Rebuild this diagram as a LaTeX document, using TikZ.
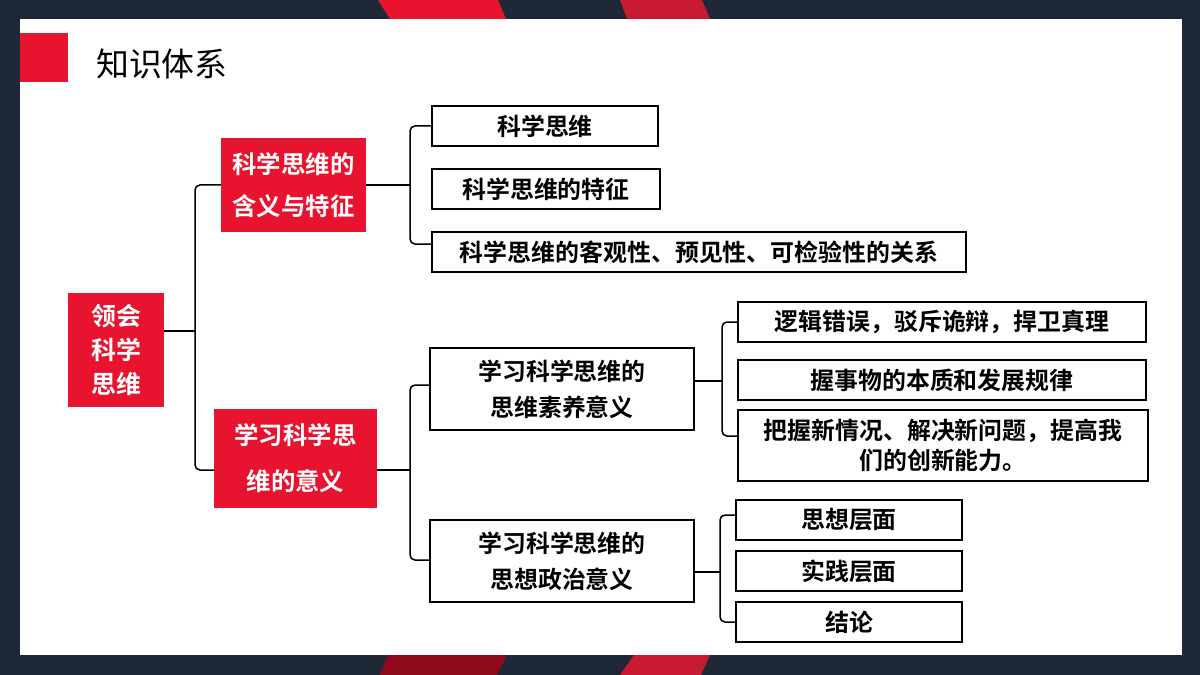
\documentclass[tikz,border=0pt]{standalone}
\usepackage{fontspec}
\newfontfamily\cjk{Noto Sans CJK SC}
\newfontfamily\cjkb{Noto Sans CJK SC Bold}
\definecolor{dark}{HTML}{1F2836}
\definecolor{rd}{HTML}{E8132E}
\definecolor{rdd}{HTML}{8E0A1B}
\definecolor{rdm}{HTML}{C91A33}
\begin{document}
\begin{tikzpicture}[x=1bp,y=-1bp,
  redbox/.style={fill=rd,text=white,font=\cjkb\fontsize{24.5}{32}\selectfont,align=center,inner sep=0pt},
  wbox/.style={draw=black,line width=2bp,fill=white,font=\cjkb\fontsize{24}{30}\selectfont,align=center,inner sep=0pt},
  brk/.style={line width=1.5bp,rounded corners=5bp}]
\fill[dark] (0,0) rectangle (1200,675);
\fill[rd] (378,0) -- (498,0) -- (506,19) -- (390,19) -- cycle;
\fill[rdm] (620,0) -- (702,0) -- (710,19) -- (627,19) -- cycle;
\fill[rdd] (388,655) -- (507,655) -- (497,675) -- (380,675) -- cycle;
\fill[rdm] (634,655) -- (710,655) -- (701,675) -- (620,675) -- cycle;
\fill[white] (20,19) rectangle (1182,655);
\fill[rd] (20,33) rectangle (68,82);
\node[anchor=west,font=\cjk\fontsize{33}{33}\selectfont,inner sep=0pt] (title) at (96,64) {知识体系};
% nodes
\node[redbox,minimum width=96bp,minimum height=114bp,font=\cjkb\fontsize{25}{34}\selectfont] (root) at (116,350) {领会\\科学\\思维};
\node[redbox,minimum width=145bp,minimum height=94bp,font=\cjkb\fontsize{24.5}{42}\selectfont] (a) at (293.5,185) {科学思维的\\含义与特征};
\node[redbox,minimum width=163bp,minimum height=99bp,font=\cjkb\fontsize{24.5}{46}\selectfont] (b) at (295.5,458.5) {学习科学思\\维的意义};
\node[wbox,minimum width=226bp,minimum height=40bp] (a1) at (545,126) {科学思维};
\node[wbox,minimum width=228bp,minimum height=40bp] (a2) at (546,189) {科学思维的特征};
\node[wbox,minimum width=534bp,minimum height=40bp] (a3) at (699,252) {科学思维的客观性、预见性、可检验性的关系};
\node[wbox,minimum width=264bp,minimum height=82bp,font=\cjkb\fontsize{24}{36}\selectfont] (b1) at (562,389) {学习科学思维的\\思维素养意义};
\node[wbox,minimum width=264bp,minimum height=82bp,font=\cjkb\fontsize{24}{36}\selectfont] (b2) at (562,561) {学习科学思维的\\思想政治意义};
\node[wbox,minimum width=408bp,minimum height=40bp] (c1) at (942,322) {逻辑错误，驳斥诡辩，捍卫真理};
\node[wbox,minimum width=408bp,minimum height=40bp] (c2) at (942,380) {握事物的本质和发展规律};
\node[wbox,minimum width=410bp,minimum height=71bp] (c3) at (943,445.5) {把握新情况、解决新问题，提高我\\们的创新能力。};
\node[wbox,minimum width=226bp,minimum height=40bp] (d1) at (849,520) {思想层面};
\node[wbox,minimum width=226bp,minimum height=40bp] (d2) at (849,571) {实践层面};
\node[wbox,minimum width=226bp,minimum height=40bp] (d3) at (849,622) {结论};
% brackets
\draw[brk] (a.west) -- (195,185) -- (195,470) -- (b.west |- 0,470);
\draw[line width=1.5bp] (root.east |- 0,331) -- (195,331);
\draw[brk] (a1.west) -- (410,126) -- (410,244) -- (a3.west |- 0,244);
\draw[line width=1.5bp] (a.east) -- (410,185);
\draw[brk] (b1.west |- 0,385) -- (410,385) -- (410,560) -- (b2.west |- 0,560);
\draw[line width=1.5bp] (b.east |- 0,470) -- (410,470);
\draw[brk] (c1.west) -- (722,322) -- (722,436) -- (c3.west |- 0,436);
\draw[line width=1.5bp] (b1.east |- 0,381) -- (722,381);
\draw[brk] (d1.west |- 0,515) -- (720,515) -- (720,622) -- (d3.west);
\draw[line width=1.5bp] (b2.east |- 0,572) -- (720,572);
\end{tikzpicture}
\end{document}
